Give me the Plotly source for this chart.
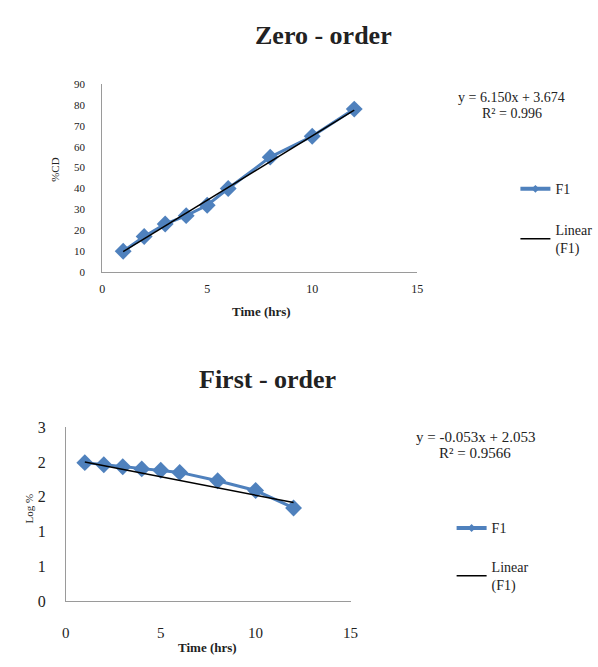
import plotly.graph_objects as go

# ---- data ----
time_hrs = [1, 2, 3, 4, 5, 6, 8, 10, 12]
zero_order_cd = [10, 17, 23, 27, 32, 40, 55, 65, 78]
first_order_log = [1.99, 1.96, 1.93, 1.90, 1.88, 1.85, 1.73, 1.59, 1.34]

zero_slope, zero_intercept, zero_r2 = 6.150, 3.674, "0.996"
first_slope, first_intercept, first_r2 = -0.053, 2.053, "0.9566"

x_ticks = [0, 5, 10, 15]
zero_y_ticks = [0, 10, 20, 30, 40, 50, 60, 70, 80, 90]
first_y_ticks = [0, 0.5, 1, 1.5, 2, 2.5]
first_y_ticktext = ["0", "1", "1", "2", "2", "3"]

series_name = "F1"
trend_name = "Linear<br>(F1)"

BLUE = "#4F81BD"
FONT = "Liberation Serif"
TXT = "#222222"
W, H = 598, 667

def px(v):  # x pixel -> paper
    return v / W

def py(v):  # y pixel (from top) -> paper
    return 1 - v / H

fig = go.Figure()

trend_x = [time_hrs[0], time_hrs[-1]]

# Top chart
fig.add_trace(go.Scatter(x=time_hrs, y=zero_order_cd, mode="lines+markers",
                         line=dict(color=BLUE, width=3),
                         marker=dict(symbol="diamond", size=13, color=BLUE),
                         showlegend=False, xaxis="x", yaxis="y"))
fig.add_trace(go.Scatter(x=trend_x, y=[zero_slope * t + zero_intercept for t in trend_x],
                         mode="lines", line=dict(color="black", width=1.5),
                         showlegend=False, xaxis="x", yaxis="y"))
# Bottom chart
fig.add_trace(go.Scatter(x=time_hrs, y=first_order_log, mode="lines+markers",
                         line=dict(color=BLUE, width=3),
                         marker=dict(symbol="diamond", size=13, color=BLUE),
                         showlegend=False, xaxis="x2", yaxis="y2"))
fig.add_trace(go.Scatter(x=trend_x, y=[first_slope * t + first_intercept for t in trend_x],
                         mode="lines", line=dict(color="black", width=1.5),
                         showlegend=False, xaxis="x2", yaxis="y2"))

# Legend-only entries
for lg, ax, ay in [("legend", "x", "y"), ("legend3", "x2", "y2")]:
    fig.add_trace(go.Scatter(x=[None], y=[None], mode="lines+markers", name=series_name,
                             line=dict(color=BLUE, width=4),
                             marker=dict(symbol="diamond", size=6, color=BLUE),
                             legend=lg, xaxis=ax, yaxis=ay))
for lg, ax, ay in [("legend2", "x", "y"), ("legend4", "x2", "y2")]:
    fig.add_trace(go.Scatter(x=[None], y=[None], mode="lines", name=trend_name,
                             line=dict(color="black", width=1.5),
                             legend=lg, xaxis=ax, yaxis=ay))

axis_common = dict(showgrid=False, zeroline=False, showline=True,
                   linecolor="#9a9a9a", linewidth=1, ticks="", mirror=False)

leg_common = dict(font=dict(family=FONT, size=14, color=TXT), bgcolor="rgba(0,0,0,0)",
                  borderwidth=0, xanchor="left", yanchor="middle", itemwidth=30)

fig.update_layout(
    width=W, height=H,
    margin=dict(l=0, r=0, t=0, b=0),
    paper_bgcolor="white", plot_bgcolor="white",
    font=dict(family=FONT, color=TXT),
    xaxis=dict(domain=[px(100), px(421)], range=[0, 15], tickvals=x_ticks,
               tickfont=dict(size=12), ticklabelstandoff=6, anchor="y", **axis_common),
    yaxis=dict(domain=[py(271), py(78)], range=[0, 90], tickvals=zero_y_ticks,
               tickfont=dict(size=11), ticklabelstandoff=14, anchor="x", **axis_common),
    xaxis2=dict(domain=[px(63), px(353)], range=[0, 15], tickvals=x_ticks,
                tickfont=dict(size=15), ticklabelstandoff=18, anchor="y2", **axis_common),
    yaxis2=dict(domain=[py(609), py(430)], range=[0, 2.5], tickvals=first_y_ticks,
                ticktext=first_y_ticktext, tickfont=dict(size=16), ticklabelstandoff=16,
                anchor="x2", **axis_common),
    legend=dict(x=px(521), y=py(186), **leg_common),
    legend2=dict(x=px(521), y=py(237), **leg_common),
    legend3=dict(x=px(456), y=py(534), **leg_common),
    legend4=dict(x=px(456), y=py(583), **leg_common),
)

ann = [
    dict(text="<b>Zero - order</b>", x=px(325), y=py(28), size=26),
    dict(text="<b>First - order</b>", x=px(268), y=py(381), size=26),
    dict(text="y = 6.150x + 3.674", x=px(517), y=py(92), size=14),
    dict(text="R² = " + zero_r2, x=px(518), y=py(108), size=14),
    dict(text="y = -0.053x + 2.053", x=px(480), y=py(440), size=15),
    dict(text="R² = " + first_r2, x=px(480), y=py(457), size=15),
    dict(text="<b>Time (hrs)</b>", x=px(262), y=py(311), size=13),
    dict(text="<b>Time (hrs)</b>", x=px(207), y=py(656), size=13),
]
for a in ann:
    fig.add_annotation(text=a["text"], x=a["x"], y=a["y"], xref="paper", yref="paper",
                       showarrow=False, xanchor="center", yanchor="middle",
                       font=dict(family=FONT, size=a["size"], color=TXT))
fig.add_annotation(text="%CD", x=px(52), y=py(166), xref="paper", yref="paper",
                   showarrow=False, textangle=-90, xanchor="center", yanchor="middle",
                   font=dict(family=FONT, size=11, color=TXT))
fig.add_annotation(text="Log %", x=px(25), y=py(514), xref="paper", yref="paper",
                   showarrow=False, textangle=-90, xanchor="center", yanchor="middle",
                   font=dict(family=FONT, size=11, color=TXT))

fig.write_html("out.html", config={"displayModeBar": False},
               post_script="document.body.style.margin='0';document.body.style.overflow='hidden';")
